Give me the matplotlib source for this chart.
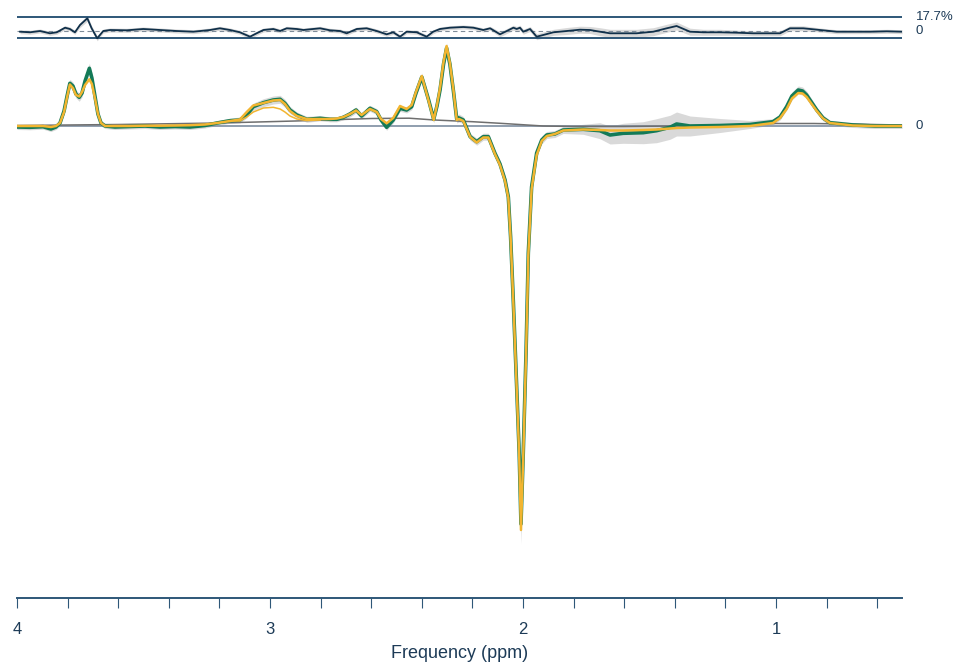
import numpy as np
import matplotlib
matplotlib.use('Agg')
from matplotlib import pyplot as plt
from matplotlib.ticker import MultipleLocator

# spectrum (arbitrary units, 0 = zero line)
ppm = [4.000, 3.949, 3.897, 3.866, 3.846, 3.830, 3.814, 3.802, 3.791, 3.779,
       3.767, 3.754, 3.743, 3.731, 3.714, 3.704, 3.692, 3.680, 3.668, 3.652,
       3.613, 3.553, 3.494, 3.435, 3.375, 3.316, 3.257, 3.209, 3.158, 3.119,
       3.092, 3.066, 3.026, 2.987, 2.960, 2.941, 2.921, 2.894, 2.855, 2.802,
       2.763, 2.736, 2.710, 2.684, 2.660, 2.638, 2.605, 2.578, 2.561, 2.539,
       2.513, 2.486, 2.460, 2.440, 2.423, 2.400, 2.387, 2.373, 2.353, 2.340,
       2.328, 2.314, 2.302, 2.289, 2.275, 2.262, 2.253, 2.236, 2.209, 2.183,
       2.157, 2.137, 2.111, 2.091, 2.071, 2.058, 2.049, 2.038, 2.025, 2.015,
       2.008, 1.999, 1.988, 1.979, 1.966, 1.946, 1.926, 1.906, 1.874, 1.841,
       1.762, 1.696, 1.656, 1.604, 1.525, 1.472, 1.419, 1.393, 1.340, 1.221,
       1.103, 1.012, 0.984, 0.958, 0.937, 0.912, 0.895, 0.879, 0.859, 0.839,
       0.814, 0.787, 0.696, 0.609, 0.502]
data = [-1, -1.3, -0.7, -3, -1, 3, 15, 30, 42.7, 40,
        32, 28.7, 33, 45, 57.7, 48, 30, 12, 3, 0,
        -1, -0.5, 0, -1, -0.5, -1, 0.5, 3, 5.3, 6,
        11, 19.3, 23.3, 26, 26.7, 22.7, 16, 11, 6.7, 7.7,
        6.7, 6.7, 8.7, 12, 16, 10, 17.7, 14.3, 6, -1.3,
        6, 17.7, 16, 19.3, 33, 49, 38, 26, 6.7, 20,
        36, 62, 78, 62, 35, 7, 8, 6, -10.7, -15.7,
        -10.7, -10.7, -27.3, -38, -54, -71, -111, -177, -261, -327,
        -398, -327, -227, -127, -61, -27, -14, -9, -8, -4,
        -3.3, -4.7, -9, -7.3, -6.7, -4.7, -1.3, 2, 0, 0.5,
        1.5, 4.3, 9, 19.3, 30, 36, 35, 31, 23.5, 16,
        8, 3.3, 1, 0, 0]
fit = [0, 0, 0, -1, 0, 3, 14, 29, 41.5, 38,
       31, 29.5, 34, 41, 46.7, 42, 28, 12, 3, 0,
       0, 0, 0.3, 0.3, 0.5, 0.8, 1.5, 3, 5, 6.5,
       14, 20.5, 23, 25.5, 26, 22, 15, 10, 7, 7,
       7, 7.5, 9, 12, 15.5, 11, 17, 14, 7, 2.7,
       8, 20, 17, 21, 34, 50, 38, 25, 6, 21,
       38, 64, 80, 63, 36, 6, 7, 5, -11, -16.5,
       -11.5, -11.5, -28, -39, -55, -72, -112, -178, -262, -330,
       -404, -330, -229, -129, -63, -29, -15, -10, -8, -4.5,
       -3.5, -4, -4.5, -4.5, -4, -3.5, -2.5, -2, -1.5, -1,
       0, 3, 8, 17, 27.5, 33, 32.5, 29, 22, 15,
       7.5, 3, 0.5, 0, 0]
sd = [2.5, 2.5, 2.5, 2.5, 2.5, 3, 3, 3.5, 4, 4,
      4, 4, 4, 5, 5, 5, 4, 3, 3, 2.5,
      2.5, 2.5, 2.5, 2.5, 2.5, 2.5, 2.5, 2.5, 2.5, 3,
      3, 3.5, 4, 4, 4, 4, 3.5, 3, 3, 2.5,
      2.5, 2.5, 2.5, 3, 3, 3, 3, 3, 3, 3,
      3, 3, 3, 3, 3.5, 4, 4, 3.5, 3.5, 4,
      4, 5, 5, 5, 4, 4, 4, 3.5, 3.5, 3.5,
      3.5, 3.5, 4, 4, 5, 5, 5, 5, 6, 8,
      20, 8, 6, 5, 5, 4, 4, 3.5, 3.5, 3.5,
      5, 8, 9, 10, 11, 12, 12, 12, 10, 7,
      4, 3, 3, 3.5, 4, 4, 4, 4, 3.5, 3,
      3, 2.5, 2.5, 2.5, 2.5]

# thinner fit curve under the 3.0 ppm hump
comp_ppm = [3.158, 3.119, 3.092, 3.066, 3.026, 2.987, 2.960, 2.941, 2.921, 2.894, 2.855, 2.802]
comp = [5, 5, 9, 14, 18, 18.7, 17, 14, 10, 7, 5.5, 6]

base_ppm = [4.0, 3.6, 3.2, 2.9, 2.6, 2.45, 2.35, 2.2, 2.09, 1.92, 1.8, 1.6, 1.4, 1.2, 1.0, 0.85, 0.5]
base = [0.5, 1.5, 3, 5, 7.5, 7.8, 6, 4.3, 2.7, 0, -0.5, -0.5, 0, 1, 2.5, 2.5, 1]

# residual panel
res_ppm = [3.988, 3.949, 3.909, 3.870, 3.843, 3.810, 3.791, 3.771, 3.751, 3.722,
           3.705, 3.683, 3.659, 3.632, 3.566, 3.501, 3.435, 3.369, 3.303, 3.237,
           3.198, 3.158, 3.119, 3.079, 3.053, 3.026, 2.987, 2.960, 2.934, 2.894,
           2.868, 2.842, 2.802, 2.763, 2.723, 2.697, 2.657, 2.618, 2.578, 2.539,
           2.513, 2.486, 2.460, 2.420, 2.381, 2.355, 2.328, 2.289, 2.236, 2.196,
           2.157, 2.130, 2.091, 2.064, 2.038, 2.025, 2.012, 1.999, 1.972, 1.946,
           1.920, 1.880, 1.827, 1.775, 1.735, 1.696, 1.656, 1.551, 1.485, 1.432,
           1.393, 1.340, 1.287, 1.221, 1.155, 1.090, 1.024, 0.984, 0.945, 0.892,
           0.826, 0.760, 0.695, 0.628, 0.562, 0.502]
res = [-0.7, -1.3, 0, -2.3, -1.3, 3.3, 2, -1.3, 6, 12.7,
       2.7, -7.3, 0, 1, 0.7, 2, 1, 0, -0.7, 1,
       2.7, 1, -1.3, -5.7, -2.3, 1, 2, 0, 2.7, 2,
       1, 1.7, 2.7, 0.7, 0, -2.3, 2, 2.7, 0, -3.3,
       -1.3, -5.7, -0.7, -1.3, -5.7, -0.7, 2, 3.3, 4, 3.3,
       1, 2.7, -3.3, 0, 3.3, 2, 3.3, -0.7, 2, -5.7,
       -4, -1.3, 0, 1.3, 1, -0.7, -2.3, -2.3, -0.7, 2.7,
       5, -0.7, -1.3, -1.3, -1.7, -2.3, -2.3, -2.3, 2.7, 2.7,
       1, -0.7, -0.7, -0.7, -0.3, -0.7]
res_sd = [2, 2, 2, 2, 2, 2, 2, 2, 2.5, 3,
          2.5, 2.5, 2, 2, 2, 2, 2, 2, 2, 2,
          2, 2, 2, 2, 2, 2, 2, 2, 2, 2,
          2, 2, 2, 2, 2, 2, 2, 2, 2, 2,
          2, 2, 2, 2, 2, 2, 2, 2, 2, 2,
          2, 2, 2.5, 2.5, 2.5, 2.5, 2.5, 2.5, 2.5, 3,
          3, 3, 3.5, 3.5, 3.5, 4, 4, 4, 4, 4,
          4, 3.5, 3, 3, 2.5, 2.5, 2.5, 2.5, 2.5, 2.5,
          2, 2, 2, 2, 2, 2]
res_top_label = '17.7%'

navy = '#1d3b57'
green = '#137a57'
yellow = '#f2b530'
band = '#d9d9d9'
font = ['Liberation Sans', 'DejaVu Sans']

# vertical offsets of the residual panel
res_zero = 95
res_top = 109
res_bot = 88

fig = plt.figure(figsize=(9.54, 6.65), dpi=100)
ax = fig.add_axes([17 / 954, 67 / 665, 885.5 / 954, 588 / 665])

p = np.array(ppm)
d = np.array(data)
s = np.array(sd)
rp = np.array(res_ppm)
r = np.array(res)
rs = np.array(res_sd)

ax.fill_between(p, d - s, d + s, color=band, lw=0, zorder=1)
ax.fill_between(rp, res_zero + r - rs, res_zero + r + rs, color=band, lw=0, zorder=1)

ax.axhline(0, color='#8796a8', lw=1.3, zorder=2)
ax.axhline(res_top, color='#2e5778', lw=1.4, zorder=2)
ax.axhline(res_bot, color='#2e5778', lw=1.4, zorder=2)
ax.axhline(res_zero, color='#7f8c99', lw=0.8, ls=(0, (4, 3)), zorder=2)

ax.plot(base_ppm, base, color='#6f6f6f', lw=1.1, zorder=3)
ax.plot(p, d, color=green, lw=2.6, zorder=4, solid_joinstyle='round')
ax.plot(p, fit, color=yellow, lw=1.8, zorder=5, solid_joinstyle='round')
ax.plot(comp_ppm, comp, color=yellow, lw=1.1, zorder=5)
ax.plot(rp, res_zero + r, color='#10304a', lw=1.3, zorder=4)

ax.set_xlim(4, 0.5)
ax.set_ylim(-472, 116)

for side in ['top', 'left', 'right']:
    ax.spines[side].set_visible(False)
ax.spines['bottom'].set_color('#2e5778')
ax.spines['bottom'].set_linewidth(1.4)
ax.set_yticks([])
ax.xaxis.set_major_locator(MultipleLocator(1))
ax.xaxis.set_minor_locator(MultipleLocator(0.2))
ax.tick_params(axis='x', which='both', direction='out', length=7, width=0.8, color='#2e5778',
               labelcolor=navy, labelsize=12, pad=10)
ax.set_xticklabels([], minor=True)
ax.set_xlabel('Frequency (ppm)', fontsize=13, color=navy, labelpad=6)

for lab in ax.get_xticklabels():
    lab.set_family(font)
ax.xaxis.label.set_family(font)

ax.text(0.447, res_top, res_top_label, ha='left', va='center', fontsize=9.5, color=navy,
        family=font, clip_on=False)
ax.text(0.447, res_zero - 0.5, '0', ha='left', va='center', fontsize=9.5, color=navy,
        family=font, clip_on=False)
ax.text(0.447, 0, '0', ha='left', va='center', fontsize=9.5, color=navy,
        family=font, clip_on=False)

fig.savefig('out.png', dpi=100)
